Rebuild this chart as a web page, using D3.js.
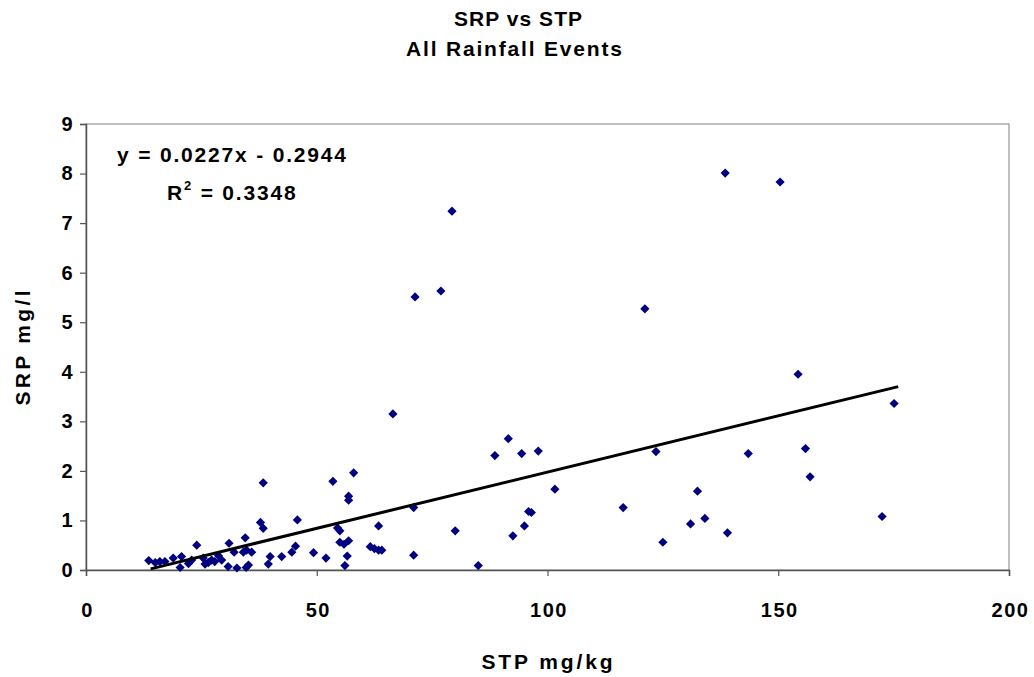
<!DOCTYPE html>
<html>
<head>
<meta charset="utf-8">
<script src="https://cdn.jsdelivr.net/npm/d3@7"></script>
<style>
  body { margin: 0; background: #fff; }
  svg text { font-family: "Liberation Sans", Arial, sans-serif; font-weight: bold; fill: #000; }
</style>
</head>
<body>
<div id="chart"></div>
<script>
// STP (mg/kg) vs SRP (mg/l)
const stp = [
    13.6, 15.0, 16.0, 17.1, 18.9, 20.4, 20.7, 22.2, 22.9, 24.0,
    25.4, 25.8, 26.5, 27.2, 27.9, 28.7, 29.4, 30.8, 31.0, 32.1,
    32.7, 34.1, 34.5, 34.7, 34.8, 35.2, 35.9, 37.8, 38.4, 38.4,
    39.5, 39.9, 42.4, 44.6, 45.4, 45.8, 49.3, 52.0, 53.5, 54.5,
    55.0, 55.0, 55.9, 56.1, 56.6, 56.9, 56.9, 56.9, 58.0, 61.6,
    62.5, 63.4, 63.4, 64.1, 66.5, 71.0, 71.0, 71.3, 76.9, 79.3,
    80.0, 85.0, 88.6, 91.5, 92.5, 94.4, 95.0, 95.9, 96.5, 98.0,
    101.6, 116.4, 121.1, 123.5, 125.0, 131.0, 132.5, 134.1, 138.5, 139.0,
    143.5, 150.4, 154.3, 155.9, 156.9, 172.5, 175.1,
];
const srp = [
    0.19, 0.15, 0.17, 0.17, 0.24, 0.05, 0.27, 0.13, 0.20, 0.50,
    0.24, 0.12, 0.15, 0.20, 0.17, 0.29, 0.20, 0.07, 0.54, 0.36,
    0.04, 0.36, 0.65, 0.05, 0.40, 0.10, 0.36, 0.96, 0.84, 1.76,
    0.12, 0.27, 0.27, 0.36, 0.48, 1.01, 0.35, 0.24, 1.79, 0.85,
    0.79, 0.56, 0.52, 0.09, 0.28, 0.59, 1.49, 1.41, 1.96, 0.47,
    0.43, 0.40, 0.89, 0.40, 3.15, 1.26, 0.30, 5.51, 5.63, 7.24,
    0.79, 0.09, 2.31, 2.65, 0.69, 2.35, 0.89, 1.18, 1.16, 2.40,
    1.63, 1.26, 5.27, 2.39, 0.56, 0.93, 1.59, 1.04, 8.01, 0.75,
    2.35, 7.83, 3.95, 2.45, 1.88, 1.08, 3.36,
];

// linear trend (as printed on the chart)
const slope = 0.0227;
const intercept = -0.2944;
const rSquared = 0.3348;
const trendRange = [14, 176];

const xTicks = [0, 50, 100, 150, 200];
const yTicks = [0, 1, 2, 3, 4, 5, 6, 7, 8, 9];

const W = 1034;
const H = 677;
const Plot = { left: 86, right: 1009, top: 124, bottom: 570 };
const Font = '"Liberation Sans", Arial, sans-serif';

const svg = d3.select('#chart')
    .append('svg')
    .attr('width', W)
    .attr('height', H);

const x = d3.scaleLinear().domain([0, 200]).range([Plot.left, Plot.right]);
const y = d3.scaleLinear().domain([0, 9]).range([Plot.bottom, Plot.top]);

// label helper, width matched to the original
function label(parent, str, px, py, width, anchor) {
    return parent.append('text')
        .attr('x', px).attr('y', py)
        .attr('text-anchor', anchor || 'middle')
        .attr('textLength', width)
        .attr('lengthAdjust', 'spacing')
        .style('font-size', '21px')
        .text(str);
}

// titles
label(svg, 'SRP vs STP', 518, 26, 128);
label(svg, 'All Rainfall Events', 514, 56, 216);

// plot area border
svg.append('rect')
    .attr('x', Plot.left).attr('y', Plot.top)
    .attr('width', Plot.right - Plot.left)
    .attr('height', Plot.bottom - Plot.top)
    .attr('fill', 'none')
    .attr('stroke', '#808080')
    .attr('stroke-width', 1);

// axes
const xAxis = svg.append('g')
    .attr('transform', `translate(0, ${Plot.bottom})`)
    .call(d3.axisBottom(x).tickValues(xTicks).tickSize(6).tickPadding(27));
const yAxis = svg.append('g')
    .attr('transform', `translate(${Plot.left}, 0)`)
    .call(d3.axisLeft(y).tickValues(yTicks).tickSize(6).tickPadding(8));

[xAxis, yAxis].forEach(ax => {
    ax.select('.domain').attr('stroke', '#555').attr('stroke-width', 1.5);
    ax.selectAll('.tick line').attr('stroke', '#555').attr('stroke-width', 1.2);
    ax.selectAll('.tick text')
        .style('font-family', Font)
        .style('font-weight', 'bold')
        .style('font-size', '20px')
        .style('letter-spacing', '1.5px')
        .attr('fill', '#000');
});
xAxis.selectAll('.tick text').attr('dx', '1px');
yAxis.selectAll('.tick text').attr('dx', '2px');

// axis titles
label(svg, 'STP mg/kg', 547, 669, 131);
label(svg, 'SRP mg/l', 0, 0, 115)
    .attr('transform', 'translate(30, 348) rotate(-90)');

// points
const points = stp.map((v, i) => ({ x: v, y: srp[i] }));
const diamond = 'M0,-4.6L4.6,0L0,4.6L-4.6,0Z';
svg.append('g')
    .selectAll('path')
    .data(points)
    .join('path')
    .attr('d', diamond)
    .attr('transform', d => `translate(${x(d.x)}, ${y(d.y)})`)
    .attr('fill', '#000080');

// trend line
svg.append('line')
    .attr('x1', x(trendRange[0]))
    .attr('y1', y(slope * trendRange[0] + intercept))
    .attr('x2', x(trendRange[1]))
    .attr('y2', y(slope * trendRange[1] + intercept))
    .attr('stroke', '#000')
    .attr('stroke-width', 3);

// equation label
label(svg, `y = ${slope}x - ${Math.abs(intercept)}`, 117, 162, 229, 'start');
const r2 = svg.append('text')
    .attr('x', 167).attr('y', 200)
    .style('font-size', '21px')
    .style('letter-spacing', '1.8px');
r2.append('tspan').text('R');
r2.append('tspan').attr('dy', -10).style('font-size', '13px').text('2');
r2.append('tspan').attr('dy', 10).text(` = ${rSquared}`);
</script>
</body>
</html>
